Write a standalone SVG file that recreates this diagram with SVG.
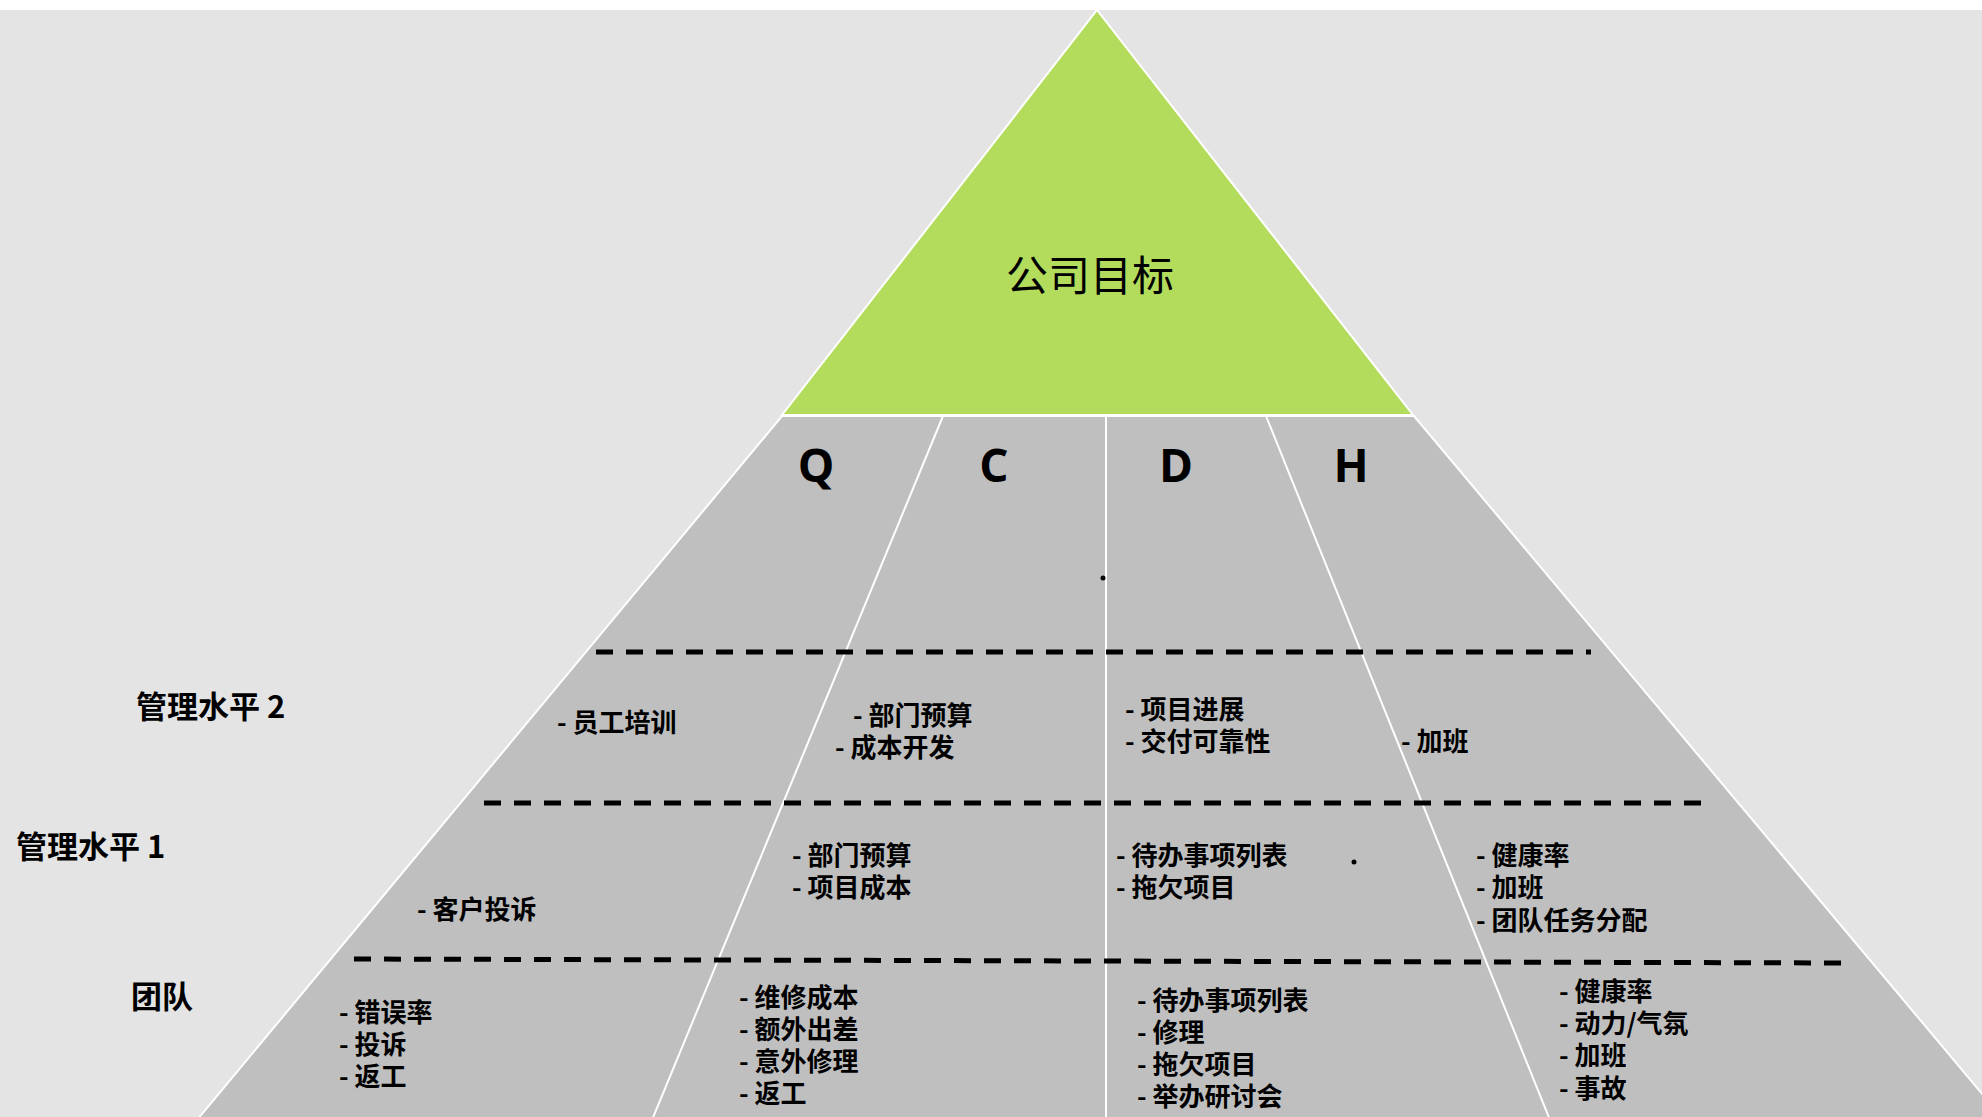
<svg xmlns="http://www.w3.org/2000/svg" width="1982" height="1117" viewBox="0 0 1982 1117">
<style>
.item{font-family:"Noto Sans CJK SC","Noto Sans",sans-serif;font-size:26px;font-weight:700;fill:#000}
.lvl{font-family:"Noto Sans CJK SC","Noto Sans",sans-serif;font-size:31px;font-weight:700;fill:#000}
.big{font-family:"Open Sans","Noto Sans",sans-serif;font-size:46px;font-weight:700;fill:#000;text-anchor:middle}
.dash{stroke:#000;stroke-width:5;stroke-dasharray:17 13;fill:none}
.div{stroke:#fff;stroke-width:2;fill:none}
</style>
<rect x="0" y="0" width="1982" height="1117" fill="#ffffff"/>
<rect x="0" y="10" width="1982" height="1107" fill="#e4e4e4"/>

<g id="base">
<polygon points="782,416 1414,416 2004,1120 197,1120" fill="#bfbfbf" stroke="#fff" stroke-width="2"/>
</g>
<g id="goal">
<polygon points="1097,10 1413,415 782,415" fill="#b4dc5c" stroke="#fff" stroke-width="2"/>
<text x="1090" y="291" font-family="Noto Sans CJK SC, sans-serif" font-size="42" text-anchor="middle">公司目标</text>
</g>

<g id="connectors">
<line class="div" x1="943" y1="416" x2="652" y2="1120"/>
<line class="div" x1="1106" y1="416" x2="1106" y2="1120"/>
<line class="div" x1="1266" y1="416" x2="1550" y2="1120"/>
<line class="dash" x1="596" y1="652" x2="1591" y2="652"/>
<line class="dash" x1="484" y1="803" x2="1714" y2="803"/>
<line class="dash" x1="354" y1="959" x2="1844" y2="963"/>
</g>

<g id="headers">
<text class="big" x="816" y="482">Q</text>
<text class="big" x="994" y="482">C</text>
<text class="big" x="1176" y="482">D</text>
<text class="big" x="1351" y="482">H</text>
<circle cx="1103" cy="578" r="2.5" fill="#000"/>
<circle cx="1354" cy="862" r="2.5" fill="#000"/>
</g>

<g id="levels">
<text class="lvl" x="136" y="718">管理水平 2</text>
<text class="lvl" x="16" y="858">管理水平 1</text>
<text class="lvl" x="131" y="1008">团队</text>
</g>

<g id="mgmt2">
<text class="item" x="557" y="732">- 员工培训</text>
<text class="item" x="853" y="725">- 部门预算</text>
<text class="item" x="835" y="757">- 成本开发</text>
<text class="item" x="1125" y="719">- 项目进展</text>
<text class="item" x="1125" y="751">- 交付可靠性</text>
<text class="item" x="1401" y="751">- 加班</text>
</g>

<g id="mgmt1">
<text class="item" x="417" y="919">- 客户投诉</text>
<text class="item" x="792" y="865">- 部门预算</text>
<text class="item" x="792" y="897">- 项目成本</text>
<text class="item" x="1116" y="865">- 待办事项列表</text>
<text class="item" x="1116" y="897">- 拖欠项目</text>
<text class="item" x="1476" y="865">- 健康率</text>
<text class="item" x="1476" y="897">- 加班</text>
<text class="item" x="1476" y="930">- 团队任务分配</text>
</g>

<g id="team">
<text class="item" x="339" y="1022">- 错误率</text>
<text class="item" x="339" y="1054">- 投诉</text>
<text class="item" x="339" y="1086">- 返工</text>
<text class="item" x="739" y="1007">- 维修成本</text>
<text class="item" x="739" y="1039">- 额外出差</text>
<text class="item" x="739" y="1071">- 意外修理</text>
<text class="item" x="739" y="1103">- 返工</text>
<text class="item" x="1137" y="1010">- 待办事项列表</text>
<text class="item" x="1137" y="1042">- 修理</text>
<text class="item" x="1137" y="1074">- 拖欠项目</text>
<text class="item" x="1137" y="1106">- 举办研讨会</text>
<text class="item" x="1559" y="1001">- 健康率</text>
<text class="item" x="1559" y="1033">- 动力/气氛</text>
<text class="item" x="1559" y="1065">- 加班</text>
<text class="item" x="1559" y="1098">- 事故</text>
</g>
</svg>
